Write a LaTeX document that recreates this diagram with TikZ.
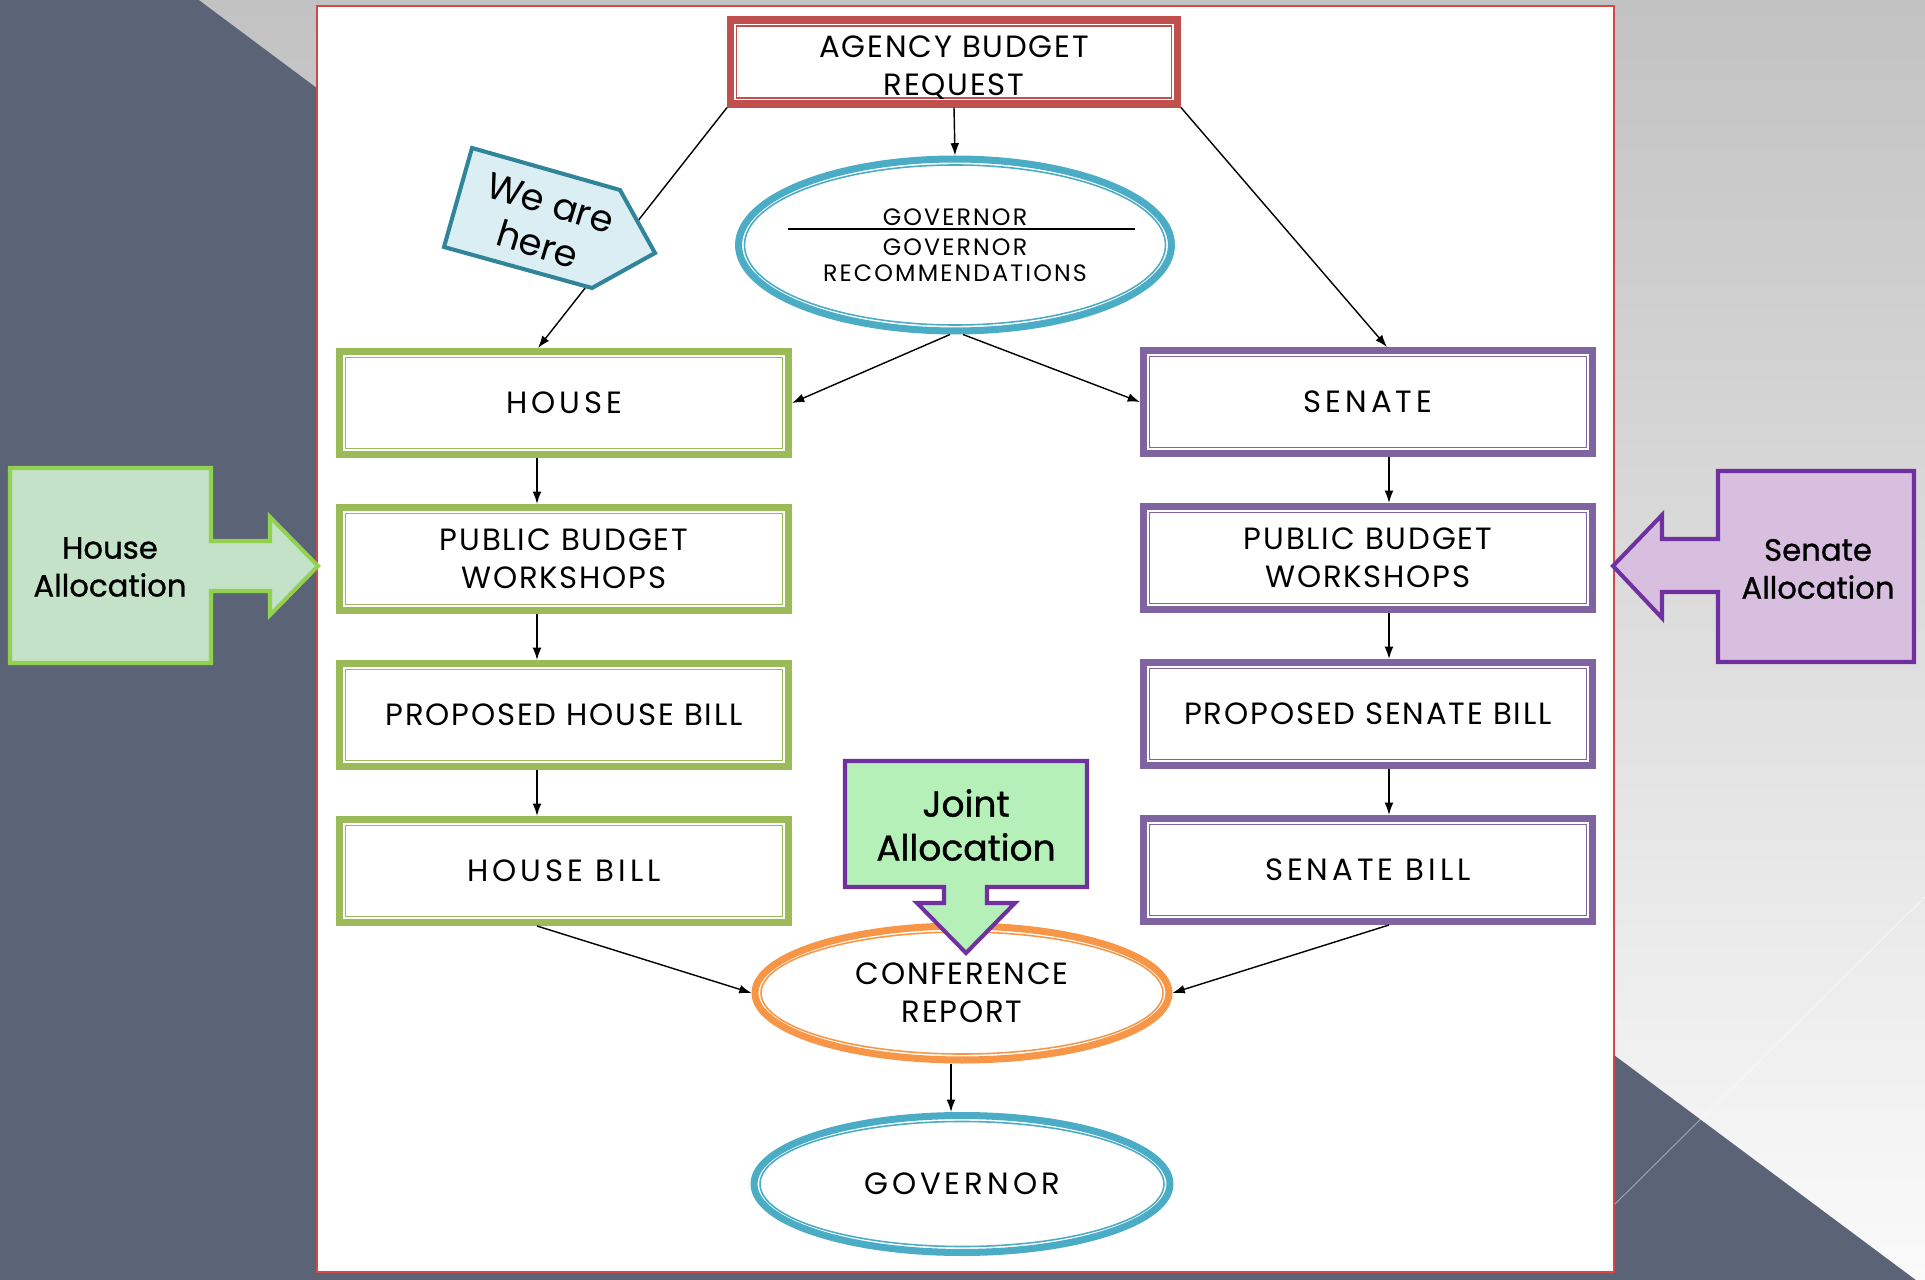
\documentclass[tikz,border=0pt]{standalone}
\usepackage{fontspec}
\setmainfont{Poppins}
\usepackage{tikz}
\usetikzlibrary{arrows.meta,positioning,shapes.geometric,calc}
\definecolor{slatebg}{RGB}{91,99,119}
\definecolor{topgray}{RGB}{194,194,194}
\definecolor{lowgray}{RGB}{250,250,250}
\definecolor{paneledge}{RGB}{208,72,72}
\definecolor{housegreen}{RGB}{155,187,89}
\definecolor{senatepurple}{RGB}{128,100,162}
\definecolor{agencyred}{RGB}{192,80,77}
\definecolor{govteal}{RGB}{75,172,198}
\definecolor{conforange}{RGB}{247,150,70}
\definecolor{herefill}{RGB}{219,238,243}
\definecolor{hereedge}{RGB}{49,133,155}
\definecolor{hallotfill}{RGB}{196,226,200}
\definecolor{hallotedge}{RGB}{146,208,80}
\definecolor{sallotfill}{RGB}{216,191,224}
\definecolor{sallotedge}{RGB}{112,48,160}
\definecolor{jallotfill}{RGB}{180,240,184}
\tikzset{
  inner rim/.style={path picture={
    \draw[#1,line width=0.9pt]
      ([shift={(3.4pt,3.4pt)}]path picture bounding box.south west) rectangle
      ([shift={(-3.4pt,-3.4pt)}]path picture bounding box.north east);}},
  inner oval/.style={path picture={
    \draw[#1,line width=0.9pt]
      let \p1=(path picture bounding box.north east),\p2=(path picture bounding box.center) in
      (\p2) ellipse ({\x1-\x2-3.4pt} and {\y1-\y2-3.4pt});}}
}

\begin{document}
\begin{tikzpicture}[
  x=0.02cm,y=-0.02cm,
  node distance=0.92cm,
  box/.style={rectangle,draw=#1,line width=4pt,fill=white,minimum width=8.98cm,minimum height=2.06cm,inner sep=0pt,align=center,
    font=\fontsize{17.5}{21.6}\selectfont\addfontfeature{LetterSpace=6},inner rim=#1},
  oval/.style={ellipse,draw=#1,line width=4pt,fill=white,inner sep=0pt,align=center,
    font=\fontsize{17.5}{21.6}\selectfont\addfontfeature{LetterSpace=6},inner oval=#1},
  spaced/.style={font=\fontsize{17.5}{21.6}\selectfont\addfontfeature{LetterSpace=13}},
  line/.style={-{Latex[length=7pt,width=5pt]},line width=0.8pt},
  callout/.style={line width=2.3pt,line join=miter},
  alloctext/.style={align=center,font=\fontsize{17.5}{21.6}\selectfont\addfontfeature{FakeBold=1}}
]
  \useasboundingbox (0,0) rectangle (1925,1280);
  \fill[slatebg] (0,0) rectangle (1925,1280);
  \shade[top color=topgray,bottom color=lowgray] (199,0) -- (1925,0) -- (1925,1280) -- (1916,1280) -- cycle;
  \draw[white,opacity=0.45,line width=0.5pt] (1614,1205) -- (1925,897);
  \draw[paneledge,line width=1.1pt,fill=white] (317,6) rectangle (1614,1272);

  \node[box=agencyred,minimum width=8.94cm,minimum height=1.68cm] (agency) at (954,62)
    {\raisebox{-8.2pt}[0pt][0pt]{\begin{tabular}{@{}c@{}}AGENCY BUDGET\\REQUEST\end{tabular}}};
  \node[oval=govteal,minimum width=8.66cm,minimum height=3.44cm,
    font=\fontsize{13.5}{14.8}\selectfont\addfontfeature{LetterSpace=9}] (govrec) at (955,245)
    {GOVERNOR\\[2.3pt]GOVERNOR\\RECOMMENDATIONS};
  \draw[line width=0.7pt] ([xshift=-3.34cm,yshift=0.32cm]govrec.center) -- ([xshift=3.6cm,yshift=0.32cm]govrec.center);

  \node[box=housegreen,spaced] (house) at (564,403) {HOUSE};
  \node[box=housegreen,below=of house] (hworkshop) {PUBLIC BUDGET\\WORKSHOPS};
  \node[box=housegreen,below=of hworkshop] (hproposed) {PROPOSED HOUSE BILL};
  \node[box=housegreen,spaced,below=of hproposed] (hbill) {HOUSE BILL};

  \node[box=senatepurple,spaced] (senate) at (1368,402) {SENATE};
  \node[box=senatepurple,below=of senate] (sworkshop) {PUBLIC BUDGET\\WORKSHOPS};
  \node[box=senatepurple,below=of sworkshop] (sproposed) {PROPOSED SENATE BILL};
  \node[box=senatepurple,spaced,below=of sproposed] (sbill) {SENATE BILL};

  \node[oval=conforange,minimum width=8.28cm,minimum height=2.68cm] (conference) at (962,993) {CONFERENCE\\REPORT};
  \node[oval=govteal,spaced,minimum width=8.32cm,minimum height=2.74cm] (governor) at (962,1184) {GOVERNOR};

  \draw[line] (agency.south) -- (govrec.north);
  \draw[line] (agency.south west) -- ([xshift=-0.52cm]house.north);
  \draw[line] (agency.south east) -- ([xshift=0.38cm]senate.north);
  \draw[line] ([xshift=-0.1cm]govrec.south) -- (house.east);
  \draw[line] ([xshift=0.16cm]govrec.south) -- (senate.west);
  \foreach \a/\b in {house/hworkshop,hworkshop/hproposed,hproposed/hbill}
    \draw[line] ([xshift=-0.54cm]\a.south) -- ([xshift=-0.54cm]\b.north);
  \foreach \a/\b in {senate/sworkshop,sworkshop/sproposed,sproposed/sbill}
    \draw[line] ([xshift=0.42cm]\a.south) -- ([xshift=0.42cm]\b.north);
  \draw[line] ([xshift=-0.54cm]hbill.south) -- (conference.west);
  \draw[line] ([xshift=0.42cm]sbill.south) -- (conference.east);
  \draw[line] ([xshift=-0.22cm]conference.south) -- ([xshift=-0.22cm]governor.north);

  \draw[callout,draw=hereedge,fill=herefill] (472,148) -- (620,190) -- (655,253) -- (592,288) -- (444,247) -- cycle;
  \node[rotate=-17,align=center,font=\fontsize{21}{25}\selectfont] (here) at (544,224) {We are\\here};

  \draw[callout,draw=hallotedge,fill=hallotfill] (10,468) -- (211,468) -- (211,541) -- (270,541) -- (270,517) -- (318,566)
    -- (270,615) -- (270,591) -- (211,591) -- (211,663) -- (10,663) -- cycle;
  \node[alloctext] (hallot) at (110,567) {House\\Allocation};

  \draw[callout,draw=sallotedge,fill=sallotfill] (1914,471) -- (1718,471) -- (1718,539) -- (1662,539) -- (1662,515) -- (1613,566)
    -- (1662,618) -- (1662,592) -- (1718,592) -- (1718,662) -- (1914,662) -- cycle;
  \node[alloctext] (sallot) at (1818,569) {Senate\\Allocation};

  \draw[callout,draw=sallotedge,fill=jallotfill] (845,761) -- (1087,761) -- (1087,887) -- (987,887) -- (987,903) -- (1015,903)
    -- (966,953) -- (917,903) -- (944,903) -- (944,887) -- (845,887) -- cycle;
  \node[alloctext,font=\fontsize{20.5}{25}\selectfont\addfontfeature{FakeBold=1}] (jallot) at (966,825) {Joint\\Allocation};
\end{tikzpicture}
\end{document}
